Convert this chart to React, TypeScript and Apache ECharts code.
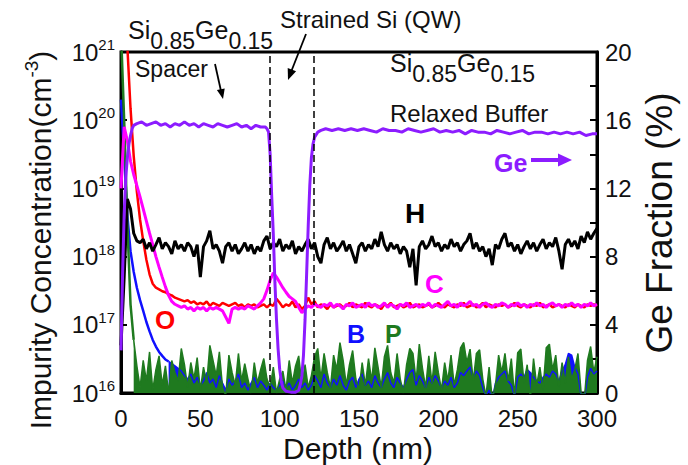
import React, { useEffect, useRef } from 'react';
import * as echarts from 'echarts';

// Depth grid: every value below is sampled at depth = index * depthStep (nm)
const depthStep = 2;

// H (black) impurity concentration, cm^-3
const hConc = [
  5e16, 5e17, 7e18, 5e18, 2.2e18, 1.7e18, 1.6e18, 1.8e18, 1.3e18, 1.6e18,
  1.2e18, 1.5e18, 1.9e18, 1.3e18, 1.6e18, 1.4e18, 1.1e18, 1.7e18, 1.3e18, 1.5e18,
  1.2e18, 1.6e18, 1.4e18, 1.0e18, 1.5e18, 5e17, 1.4e18, 1.7e18, 2.4e18, 1.3e18,
  1.5e18, 1.2e18, 8e17, 1.4e18, 1.6e18, 1.2e18, 1.5e18, 1.1e18, 1.3e18, 1.6e18,
  1.2e18, 1.5e18, 1.1e18, 1.4e18, 1.2e18, 1.7e18, 2.0e18, 1.3e18, 1.6e18, 1.4e18,
  1.8e18, 1.2e18, 1.5e18, 1.3e18, 1.7e18, 1.1e18, 1.4e18, 1.2e18, 1.5e18, 1.8e18,
  1.3e18, 1.6e18, 1.0e18, 8e17, 1.5e18, 1.9e18, 1.3e18, 1.6e18, 1.2e18, 1.4e18,
  1.7e18, 1.2e18, 1.5e18, 1.1e18, 8e17, 1.4e18, 1.6e18, 1.2e18, 1.5e18, 1.3e18,
  1.8e18, 1.4e18, 2.3e18, 1.5e18, 1.2e18, 1.6e18, 1.3e18, 1.5e18, 1.1e18, 1.4e18,
  1.2e18, 7e17, 1.3e18, 3.8e17, 1.4e18, 1.7e18, 1.3e18, 1.5e18, 2.0e18, 1.4e18,
  1.6e18, 1.2e18, 1.5e18, 1.3e18, 1.8e18, 1.4e18, 1.6e18, 1.2e18, 1.5e18, 1.7e18,
  2.2e18, 1.3e18, 1.6e18, 1.2e18, 1.4e18, 1.0e18, 1.3e18, 7.5e17, 1.5e18, 1.3e18,
  1.8e18, 2.2e18, 1.4e18, 1.6e18, 1.2e18, 1.5e18, 1.1e18, 1.4e18, 1.7e18, 1.3e18,
  1.6e18, 1.2e18, 1.5e18, 1.8e18, 1.3e18, 1.6e18, 1.4e18, 1.9e18, 1.2e18, 6.5e17,
  1.5e18, 1.8e18, 1.4e18, 1.7e18, 1.3e18, 2.0e18, 1.6e18, 2.3e18, 1.8e18, 2.2e18,
  2.6e18,
];

// O (red)
const oConc = [
  5e21, 4e21, 1.2e21, 1.5e20, 3e19, 9e18, 3.5e18, 1.7e18, 9e17, 5.5e17,
  4e17, 3.5e17, 3.3e17, 3.1e17, 3.0e17, 2.8e17, 2.7e17, 2.5e17, 2.4e17, 2.3e17,
  2.2e17, 2.3e17, 2.1e17, 2.2e17, 2.0e17, 2.1e17, 2.0e17, 2.2e17, 1.9e17, 2.1e17,
  2.0e17, 1.9e17, 2.1e17, 2.0e17, 1.9e17, 2.0e17, 2.1e17, 1.9e17, 2.0e17, 1.8e17,
  2.0e17, 1.9e17, 2.0e17, 1.8e17, 1.9e17, 2.0e17, 1.8e17, 2.0e17, 1.9e17, 2.4e17,
  2.1e17, 1.8e17, 2.0e17, 1.9e17, 2.2e17, 1.8e17, 2.0e17, 1.7e17, 1.9e17, 2.5e17,
  2.0e17, 2.2e17, 1.8e17, 2.0e17, 1.9e17, 1.7e17, 2.0e17, 1.8e17, 1.9e17, 2.0e17,
  1.8e17, 1.9e17, 2.1e17, 1.8e17, 2.0e17, 1.9e17, 1.8e17, 2.1e17, 1.9e17, 1.8e17,
  2.0e17, 1.9e17, 1.7e17, 2.0e17, 1.9e17, 2.1e17, 1.8e17, 1.9e17, 2.0e17, 1.8e17,
  1.9e17, 2.1e17, 1.8e17, 1.9e17, 2.0e17, 1.8e17, 1.9e17, 2.0e17, 1.8e17, 1.9e17,
  2.1e17, 1.9e17, 1.8e17, 2.0e17, 1.9e17, 1.8e17, 2.0e17, 1.9e17, 2.1e17, 1.8e17,
  1.9e17, 2.0e17, 1.8e17, 1.9e17, 2.1e17, 1.8e17, 2.0e17, 1.9e17, 1.8e17, 2.0e17,
  1.9e17, 2.0e17, 1.8e17, 1.9e17, 2.1e17, 1.9e17, 1.8e17, 2.0e17, 1.9e17, 1.8e17,
  2.0e17, 1.9e17, 2.1e17, 1.8e17, 1.9e17, 2.0e17, 1.8e17, 1.9e17, 2.0e17, 1.9e17,
  1.8e17, 2.0e17, 1.9e17, 1.8e17, 2.0e17, 1.9e17, 1.8e17, 2.0e17, 1.9e17, 2.0e17,
  1.9e17,
];

// C (magenta)
const cConc = [
  1e19, 8e19, 5e19, 2.5e19, 1.6e19, 1.1e19, 7.5e18, 5e18, 3.3e18, 2.2e18,
  1.5e18, 1e18, 7e17, 5e17, 3.6e17, 2.7e17, 2.2e17, 2.0e17, 1.9e17, 1.8e17,
  1.9e17, 1.7e17, 1.8e17, 1.6e17, 1.8e17, 1.7e17, 1.8e17, 1.6e17, 1.8e17, 1.7e17,
  1.8e17, 1.7e17, 1.6e17, 1.3e17, 1.05e17, 1.7e17, 1.8e17, 1.7e17, 1.8e17, 1.7e17,
  1.9e17, 1.8e17, 1.7e17, 1.9e17, 2.1e17, 2.4e17, 3.2e17, 4.5e17, 5.8e17, 5e17,
  4.2e17, 3.5e17, 3.0e17, 2.6e17, 2.4e17, 2.2e17, 1.8e17, 1.5e17, 1.7e17, 1.9e17,
  1.8e17, 2.0e17, 1.9e17, 1.8e17, 2.0e17, 1.9e17, 2.1e17, 1.8e17, 2.0e17, 1.9e17,
  1.7e17, 2.0e17, 1.9e17, 2.1e17, 1.8e17, 1.9e17, 2.0e17, 1.8e17, 2.1e17, 1.9e17,
  2.0e17, 1.8e17, 1.9e17, 2.1e17, 1.8e17, 2.0e17, 1.9e17, 1.7e17, 2.0e17, 1.9e17,
  2.1e17, 1.8e17, 1.9e17, 2.0e17, 1.8e17, 2.0e17, 1.9e17, 2.1e17, 1.8e17, 2.0e17,
  1.9e17, 1.8e17, 2.0e17, 2.2e17, 1.9e17, 2.0e17, 1.8e17, 2.1e17, 1.9e17, 2.0e17,
  2.2e17, 1.9e17, 2.0e17, 1.8e17, 2.0e17, 2.1e17, 1.9e17, 1.8e17, 2.0e17, 1.9e17,
  2.1e17, 2.0e17, 1.8e17, 2.0e17, 1.9e17, 2.1e17, 1.9e17, 2.0e17, 1.8e17, 2.0e17,
  1.9e17, 2.1e17, 1.9e17, 2.0e17, 1.8e17, 2.0e17, 2.1e17, 1.9e17, 2.0e17, 1.8e17,
  2.0e17, 1.9e17, 2.1e17, 1.9e17, 2.0e17, 1.8e17, 2.0e17, 1.9e17, 2.1e17, 1.9e17,
  2.0e17,
];

// B (blue)
const bConc = [
  2e20, 3e19, 4e18, 1.2e18, 6e17, 3.5e17, 2.3e17, 1.6e17, 1.1e17, 8e16,
  6e16, 4.8e16, 4e16, 3.5e16, 3.1e16, 2.9e16, 2.7e16, 2.5e16, 2.3e16, 2.1e16,
  1.8e16, 1.6e16, 1.9e16, 1.4e16, 1.7e16, 1.3e16, 1.5e16, 2.0e16, 1.4e16, 1.6e16,
  1.2e16, 1.8e16, 1.4e16, 1.1e16, 1.6e16, 1.3e16, 1.5e16, 1.9e16, 1.2e16, 1.4e16,
  1.1e16, 1.4e16, 1.7e16, 1.2e16, 1.5e16, 1.3e16, 1.1e16, 1.4e16, 1.2e16, 1.1e16,
  1.3e16, 1.5e16, 1.2e16, 1.4e16, 1.1e16, 1.3e16, 1.6e16, 1.2e16, 1.4e16, 1.1e16,
  1.3e16, 1.8e16, 1.5e16, 1.2e16, 1.9e16, 1.4e16, 1.2e16, 1.6e16, 1.3e16, 1.8e16,
  1.3e16, 1.1e16, 1.5e16, 1.7e16, 1.2e16, 1.6e16, 1.9e16, 1.3e16, 1.5e16, 1.2e16,
  1.8e16, 1.4e16, 1.2e16, 1.6e16, 2.0e16, 1.4e16, 1.2e16, 1.7e16, 1.4e16, 1.2e16,
  1.6e16, 2.0e16, 2.2e16, 1.3e16, 1.8e16, 1.5e16, 1.2e16, 1.7e16, 1.4e16, 1.8e16,
  1.5e16, 1.2e16, 1.5e16, 1.3e16, 1.7e16, 1.2e16, 1.4e16, 2.0e16, 1.8e16, 2.1e16,
  2.4e16, 1.7e16, 2.1e16, 1.8e16, 1.2e16, 9e15, 1.1e16, 8e15, 1.4e16, 1.7e16,
  1.9e16, 2.1e16, 1.5e16, 1.3e16, 9e15, 1.7e16, 1.9e16, 1.7e16, 2.2e16, 2.0e16,
  1.7e16, 1.5e16, 1.4e16, 1.7e16, 1.9e16, 1.7e16, 2.1e16, 1.9e16, 1.5e16, 2.1e16,
  2.6e16, 3.8e16, 3.6e16, 2.4e16, 1.9e16, 9e15, 8e15, 1.7e16, 2.3e16, 1.9e16,
  2.1e16,
];

// P (green)
const pConc = [
  2e21, 1e20, 3e18, 2e17, 6e16, 2.5e16, 1.2e16, 3e16, 1.5e16, 4e16,
  1.1e16, 2.2e16, 3.5e16, 1.3e16, 2.5e16, 1.0e16, 3e16, 2e16, 1.5e16, 4.5e16,
  2.6e16, 1.2e16, 2.8e16, 1.6e16, 3.3e16, 1.1e16, 2.4e16, 1.4e16, 5e16, 3e16,
  1.8e16, 4e16, 1.2e16, 9e15, 3.6e16, 2e16, 1.3e16, 3.8e16, 1.5e16, 2.7e16,
  1.6e16, 1.0e16, 2.8e16, 1.4e16, 2.2e16, 3.2e16, 1.6e16, 1.2e16, 2.4e16, 1.0e16,
  1.6e16, 2.1e16, 1.1e16, 3e16, 1.4e16, 2.5e16, 3.5e16, 1.3e16, 2.6e16, 1.2e16,
  1.8e16, 3.4e16, 4.5e16, 1.6e16, 3.8e16, 2e16, 1.2e16, 3.6e16, 2.2e16, 5.5e16,
  3e16, 1.3e16, 2.6e16, 4.2e16, 1.6e16, 1.1e16, 2.8e16, 1.3e16, 3.2e16, 1.5e16,
  4.6e16, 2.4e16, 1.2e16, 3.4e16, 5e16, 2e16, 1.4e16, 3.8e16, 1.6e16, 1.0e16,
  2.6e16, 4.5e16, 3.8e16, 1.5e16, 5.2e16, 2.3e16, 1.2e16, 3.5e16, 1.4e16, 4e16,
  2e16, 1.1e16, 2.8e16, 1.5e16, 3.6e16, 1.3e16, 2.2e16, 4.6e16, 5.5e16, 2.8e16,
  4.4e16, 1.5e16, 3.8e16, 4.3e16, 1.6e16, 9e15, 2.4e16, 8e15, 1.3e16, 3.6e16,
  2e16, 3.8e16, 1.5e16, 3.2e16, 9e15, 3.9e16, 4.4e16, 1.4e16, 2.6e16, 8e15,
  3.2e16, 1.3e16, 2.4e16, 1.1e16, 4.6e16, 5.2e16, 2.2e16, 3.6e16, 1.2e16, 2.8e16,
  1.4e16, 3.4e16, 1.6e16, 2.2e16, 3.8e16, 1.0e16, 8e15, 3e16, 4.8e16, 2e16,
  3.4e16,
];

// Ge fraction (%), right axis
const geDepth = [
  0, 1, 2, 3, 4, 5, 6, 7, 8, 10, 13, 16, 19, 22, 25, 28, 31, 34, 37, 40,
  43, 46, 49, 52, 55, 58, 61, 64, 67, 70, 73, 76, 79, 82, 85, 88, 91, 92, 93, 94,
  95, 96, 97, 98, 99, 100, 101, 102, 104, 107, 110, 112, 113, 114, 115, 116, 117, 118, 119, 120,
  121, 122, 124, 126, 129, 133, 137, 141, 145, 149, 153, 157, 161, 165, 169, 173, 177, 181, 185, 189,
  193, 197, 201, 205, 209, 213, 217, 221, 225, 229, 233, 237, 241, 245, 249, 253, 257, 261, 265, 269,
  273, 277, 281, 285, 289, 293, 297, 300,
];
const geFrac = [
  2.5, 7, 10.5, 12.6, 13.8, 14.6, 15.1, 15.5, 15.7, 15.8, 15.9, 15.7, 15.8, 15.9, 15.7, 15.8, 15.6, 15.8, 15.7, 15.9,
  15.7, 15.8, 15.6, 15.8, 15.7, 15.6, 15.8, 15.7, 15.6, 15.7, 15.8, 15.6, 15.7, 15.5, 15.7, 15.6, 15.6, 15.5, 15.3, 14,
  11.5, 9.3, 6.5, 4.3, 2.6, 1.4, 0.7, 0.3, 0.1, 0.05, 0.05, 0.15, 0.5, 1.0, 2.2, 4.3, 7, 9.8, 12.2, 13.8,
  14.6, 15.0, 15.3, 15.4, 15.5, 15.4, 15.5, 15.4, 15.5, 15.4, 15.5, 15.4, 15.3, 15.5, 15.4, 15.4, 15.3, 15.5, 15.4, 15.3,
  15.4, 15.5, 15.3, 15.4, 15.3, 15.4, 15.2, 15.4, 15.3, 15.3, 15.2, 15.4, 15.3, 15.2, 15.3, 15.4, 15.2, 15.3, 15.3, 15.2,
  15.3, 15.2, 15.3, 15.2, 15.3, 15.1, 15.2, 15.2,
];

// Quantum-well boundaries (dashed lines), nm
const qwBounds = [94, 121.5];

const FONT = 'Arial, "Liberation Sans", Helvetica, sans-serif';

function txt(text: string, x: number, y: number, fontSize: number, fill = '#111', fontWeight = 'normal') {
  return {
    type: 'text',
    x,
    y,
    z: 50,
    silent: true,
    style: {
      text,
      fill,
      fontSize,
      fontFamily: FONT,
      fontWeight,
      align: 'left',
      verticalAlign: 'middle',
      textAlign: 'left',
      textVerticalAlign: 'middle',
    },
  };
}

function sige(x: number, base: number) {
  // Si_0.85 Ge_0.15 label, main font 25, subscript font 23
  const m = 25;
  const s = 23;
  const cy = base - 0.35 * m;
  const sy = base + 10 - 0.35 * s;
  return [
    txt('Si', x, cy, m),
    txt('0.85', x + 22.2, sy, s),
    txt('Ge', x + 67, cy, m),
    txt('0.15', x + 100.4, sy, s),
  ];
}

export default function App() {
  const ref = useRef<HTMLDivElement>(null);

  useEffect(() => {
    if (!ref.current) return;
    const chart = echarts.init(ref.current, null, { renderer: 'svg' });
    const depths = hConc.map((_, i) => i * depthStep);
    const pair = (arr: number[]) => arr.map((v, i) => [depths[i], v]);
    const geData = geDepth.map((d, i) => [d, geFrac[i]]);

    const lineBase = {
      type: 'line',
      showSymbol: false,
      symbol: 'none',
      clip: true,
      silent: true,
    };

    const option: any = {
      animation: false,
      backgroundColor: '#ffffff',
      grid: {
        left: 121,
        right: 91,
        top: 52,
        bottom: 72,
        show: true,
        borderColor: '#000',
        borderWidth: 3,
        backgroundColor: 'transparent',
      },
      xAxis: {
        type: 'value',
        min: 0,
        max: 300,
        interval: 50,
        axisLine: { show: true, onZero: false, lineStyle: { color: '#000', width: 3 } },
        axisTick: { show: false },
        splitLine: { show: false },
        axisLabel: { fontSize: 24, color: '#111', fontFamily: FONT, margin: 15, lineHeight: 20 },
      },
      yAxis: [
        {
          type: 'log',
          logBase: 10,
          min: 1e16,
          max: 1e21,
          splitNumber: 5,
          position: 'left',
          axisLine: { show: true, lineStyle: { color: '#000', width: 3 } },
          axisTick: { show: true, inside: true, length: 6, lineStyle: { color: '#000', width: 2 } },
          splitLine: { show: false },
          axisLabel: {
            margin: 6,
            formatter: (v: number) => `{a|10}{b|${Math.round(Math.log10(v))}}`,
            rich: {
              a: { fontSize: 24, fontFamily: FONT, color: '#111', lineHeight: 30 },
              b: { fontSize: 15, fontFamily: FONT, color: '#111', verticalAlign: 'top', lineHeight: 18 },
            },
          },
        },
        {
          type: 'value',
          min: 0,
          max: 20,
          interval: 2,
          position: 'right',
          axisLine: { show: true, lineStyle: { color: '#000', width: 3 } },
          axisTick: { show: true, inside: true, length: 7, lineStyle: { color: '#000', width: 2 } },
          splitLine: { show: false },
          axisLabel: {
            margin: 8,
            fontSize: 24,
            lineHeight: 17,
            color: '#111',
            fontFamily: FONT,
            formatter: (v: number) => (v % 4 === 0 ? String(v) : ''),
          },
        },
      ],
      series: [
        {
          ...lineBase,
          name: 'B tail',
          data: pair(bConc).slice(15),
          lineStyle: { color: '#1010ff', width: 1.5 },
          areaStyle: { color: '#1010ff', opacity: 1, origin: 'start' },
        },
        {
          ...lineBase,
          name: 'B',
          data: pair(bConc).slice(0, 16),
          lineStyle: { color: '#1010ff', width: 2.5 },
        },
        {
          ...lineBase,
          name: 'P tail',
          data: pair(pConc).slice(4),
          lineStyle: { color: '#1f7a1f', width: 1.5 },
          areaStyle: { color: '#1f7a1f', opacity: 1, origin: 'start' },
        },
        {
          ...lineBase,
          name: 'P',
          data: pair(pConc).slice(0, 5),
          lineStyle: { color: '#1f7a1f', width: 2.5 },
        },
        {
          ...lineBase,
          name: 'O',
          data: pair(oConc),
          lineStyle: { color: '#ff0000', width: 2.5 },
        },
        {
          ...lineBase,
          name: 'C',
          data: pair(cConc),
          lineStyle: { color: '#ff00ff', width: 3 },
        },
        {
          ...lineBase,
          name: 'H',
          data: pair(hConc),
          lineStyle: { color: '#000000', width: 3 },
          markLine: {
            silent: true,
            symbol: 'none',
            label: { show: false },
            lineStyle: { color: '#000', type: [7, 4], width: 1.5 },
            data: qwBounds.map((x) => ({ xAxis: x })),
          },
        },
        {
          ...lineBase,
          name: 'Ge',
          yAxisIndex: 1,
          data: geData,
          lineStyle: { color: '#8c1cff', width: 3 },
        },
      ],
      graphic: [
        // axis titles
        {
          type: 'text',
          x: 40,
          y: 240,
          rotation: Math.PI / 2,
          silent: true,
          style: {
            text: '{n|Impurity Concentration(cm}{s|-3}{n|)}',
            align: 'center',
            verticalAlign: 'middle',
            textAlign: 'center',
            textVerticalAlign: 'middle',
            rich: {
              n: { fontSize: 30, fontFamily: FONT, fill: '#111', color: '#111', lineHeight: 36 },
              s: { fontSize: 19, fontFamily: FONT, fill: '#111', color: '#111', verticalAlign: 'top', lineHeight: 22 },
            },
          },
        },
        {
          type: 'text',
          x: 659,
          y: 223,
          rotation: Math.PI / 2,
          silent: true,
          style: {
            text: 'Ge Fraction (%)',
            fill: '#111',
            fontSize: 37,
            fontFamily: FONT,
            align: 'center',
            verticalAlign: 'middle',
            textAlign: 'center',
            textVerticalAlign: 'middle',
          },
        },
        {
          type: 'text',
          x: 358,
          y: 448,
          silent: true,
          style: {
            text: 'Depth (nm)',
            fill: '#111',
            fontSize: 30,
            fontFamily: FONT,
            align: 'center',
            verticalAlign: 'middle',
            textAlign: 'center',
            textVerticalAlign: 'middle',
          },
        },
        // annotations
        ...sige(128, 39),
        ...sige(390, 72),
        txt('Spacer', 135, 69, 23),
        txt('Strained Si (QW)', 280, 19.5, 24),
        txt('Relaxed Buffer', 390, 113.5, 24),
        txt('Ge', 494, 163, 25, '#8c1cff', 'bold'),
        txt('H', 405, 213, 28, '#000', 'bold'),
        txt('C', 425, 284, 26, '#ff00ff', 'bold'),
        txt('O', 155, 319.5, 26, '#ff0000', 'bold'),
        txt('B', 347, 334, 25, '#1010ff', 'bold'),
        txt('P', 385, 334, 25, '#1f7a1f', 'bold'),
        // arrows
        { type: 'line', silent: true, z: 50, shape: { x1: 215, y1: 64, x2: 221, y2: 91 }, style: { stroke: '#000', lineWidth: 1.8 } },
        { type: 'polygon', silent: true, z: 50, shape: { points: [[223, 99], [224.7, 88.4], [216.9, 90.1]] }, style: { fill: '#000' } },
        { type: 'line', silent: true, z: 50, shape: { x1: 306, y1: 34, x2: 291, y2: 72 }, style: { stroke: '#000', lineWidth: 1.8 } },
        { type: 'polygon', silent: true, z: 50, shape: { points: [[288, 80], [296.1, 71.3], [287.7, 68.1]] }, style: { fill: '#000' } },
        { type: 'line', silent: true, z: 50, shape: { x1: 531, y1: 160, x2: 560, y2: 160 }, style: { stroke: '#8c1cff', lineWidth: 4 } },
        { type: 'polygon', silent: true, z: 50, shape: { points: [[572, 160], [558, 153.5], [558, 166.5]] }, style: { fill: '#8c1cff' } },
      ],
    };

    chart.setOption(option);
    return () => {
      chart.dispose();
    };
  }, []);

  return (
    <div
      ref={ref}
      style={{ position: 'fixed', left: 0, top: 0, width: 688, height: 465, background: '#fff' }}
    />
  );
}
